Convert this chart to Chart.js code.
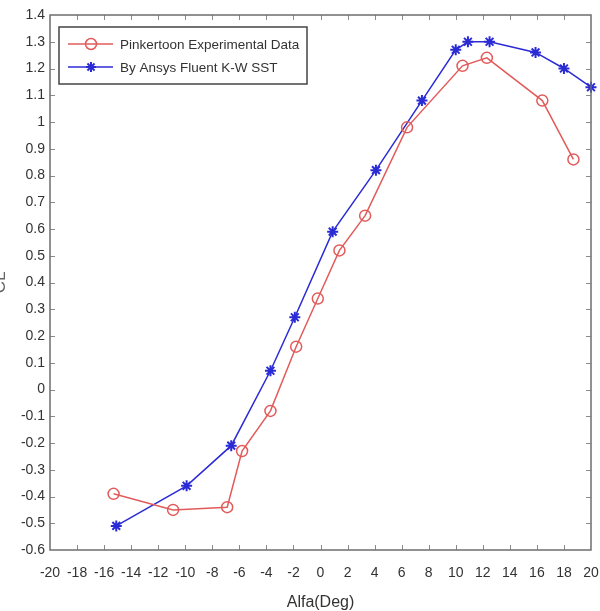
<!DOCTYPE html>
<html>
<head>
<meta charset="utf-8">
<script src="https://cdn.jsdelivr.net/npm/chart.js@4"></script>
<style>
  html, body { margin: 0; padding: 0; background: #fff; overflow: hidden; }
  #wrap { position: absolute; left: -8px; top: 0; width: 608px; height: 611px; }
</style>
</head>
<body>
<div id="wrap"><canvas id="cl-chart"></canvas></div>
<script>
// ── datos ───────────────────────────────
const expAlpha  = [-15.3, -10.9, -6.9, -5.8, -3.7, -1.8, -0.2, 1.4, 3.3, 6.4, 10.5, 12.3, 16.4, 18.7];
const expCl     = [-0.39, -0.45, -0.44, -0.23, -0.08, 0.16, 0.34, 0.52, 0.65, 0.98, 1.21, 1.24, 1.08, 0.86];
const cfdAlpha  = [-15.1, -9.9, -6.6, -3.7, -1.9, 0.9, 4.1, 7.5, 10.0, 10.9, 12.5, 15.9, 18.0, 20.0];
const cfdCl     = [-0.51, -0.36, -0.21, 0.07, 0.27, 0.59, 0.82, 1.08, 1.27, 1.30, 1.30, 1.26, 1.20, 1.13];
const xTickVals = [-20, -18, -16, -14, -12, -10, -8, -6, -4, -2, 0, 2, 4, 6, 8, 10, 12, 14, 16, 18, 20];
const yTickVals = [-0.6, -0.5, -0.4, -0.3, -0.2, -0.1, 0, 0.1, 0.2, 0.3, 0.4, 0.5, 0.6, 0.7, 0.8, 0.9, 1, 1.1, 1.2, 1.3, 1.4];
const seriesNames = ['Pinkertoon Experimental Data', 'By Ansys Fluent K-W SST'];

const FONT = "'Liberation Sans', Arial, sans-serif";
const RED  = '#e25b5b';
const BLUE = '#2b2bd6';

const pts = (xs, ys) => xs.map((x, i) => ({ x, y: ys[i] }));

// ── marco estilo MATLAB con ticks hacia dentro ──
const framePlugin = {
  id: 'frame',
  afterDatasetsDraw(chart) {
    const { ctx, chartArea: a, scales: { x, y } } = chart;
    const len = 5;
    ctx.save();
    ctx.strokeStyle = '#8a8a8a';
    ctx.lineWidth = 1;
    ctx.beginPath();
    xTickVals.slice(1, -1).forEach(v => {
      const px = Math.round(x.getPixelForValue(v)) + 0.5;
      ctx.moveTo(px, a.bottom); ctx.lineTo(px, a.bottom - len);
      ctx.moveTo(px, a.top);    ctx.lineTo(px, a.top + len);
    });
    yTickVals.slice(1, -1).forEach(v => {
      const py = Math.round(y.getPixelForValue(v)) + 0.5;
      ctx.moveTo(a.left, py);  ctx.lineTo(a.left + len, py);
      ctx.moveTo(a.right, py); ctx.lineTo(a.right - len, py);
    });
    ctx.stroke();
    ctx.strokeStyle = '#6e6e6e';
    ctx.lineWidth = 1.5;
    ctx.strokeRect(a.left, a.top, a.right - a.left, a.bottom - a.top);
    ctx.restore();
  }
};

// ── leyenda dentro del área ──
const legendPlugin = {
  id: 'boxLegend',
  afterDraw(chart) {
    const { ctx, chartArea: a } = chart;
    const bx = a.left + 9, by = a.top + 12, bw = 248, bh = 57;
    ctx.save();
    ctx.fillStyle = '#fff';
    ctx.fillRect(bx, by, bw, bh);
    ctx.strokeStyle = '#444';
    ctx.lineWidth = 1.5;
    ctx.strokeRect(bx, by, bw, bh);
    ctx.font = '13.5px ' + FONT;
    ctx.textBaseline = 'middle';
    chart.data.datasets.forEach((ds, i) => {
      const ry = by + 17 + i * 23;
      ctx.strokeStyle = ds.borderColor;
      ctx.lineWidth = 1.5;
      ctx.beginPath();
      ctx.moveTo(bx + 9, ry); ctx.lineTo(bx + 54, ry);
      ctx.stroke();
      const cx = bx + 32;
      if (ds.pointStyle === 'circle') {
        ctx.beginPath(); ctx.arc(cx, ry, 5.5, 0, Math.PI * 2); ctx.stroke();
      } else {
        ctx.lineWidth = 2;
        ctx.beginPath();
        for (let k = 0; k < 4; k++) {
          const ang = k * Math.PI / 4;
          ctx.moveTo(cx - 5 * Math.cos(ang), ry - 5 * Math.sin(ang));
          ctx.lineTo(cx + 5 * Math.cos(ang), ry + 5 * Math.sin(ang));
        }
        ctx.stroke();
      }
      ctx.fillStyle = '#333';
      ctx.fillText(ds.label, bx + 61, ry + 1);
    });
    ctx.restore();
  }
};

new Chart(document.getElementById('cl-chart').getContext('2d'), {
  type: 'line',
  data: {
    datasets: [
      {
        label: seriesNames[0],
        data: pts(expAlpha, expCl),
        borderColor: RED, borderWidth: 1.5,
        pointStyle: 'circle', pointRadius: 5.5, pointBorderWidth: 1.5,
        pointBorderColor: RED, pointBackgroundColor: 'transparent',
        fill: false, tension: 0, clip: false,
      },
      {
        label: seriesNames[1],
        data: pts(cfdAlpha, cfdCl),
        borderColor: BLUE, borderWidth: 1.5,
        pointStyle: 'star', pointRadius: 5.5, pointBorderWidth: 2,
        pointBorderColor: BLUE, pointBackgroundColor: BLUE,
        fill: false, tension: 0, clip: false,
      }
    ]
  },
  options: {
    responsive: true, maintainAspectRatio: false, animation: false,
    layout: { padding: { top: 15, right: 9, left: 0, bottom: 0 } },
    plugins: { legend: { display: false }, tooltip: { enabled: false } },
    scales: {
      x: {
        type: 'linear', min: -20, max: 20,
        afterBuildTicks: s => { s.ticks = xTickVals.map(v => ({ value: v })); },
        afterFit: s => { s.height = 61; s.paddingLeft = 0; s.paddingRight = 0; },
        grid: { display: false, drawTicks: false },
        border: { display: false },
        ticks: { color: '#333', padding: 15, maxRotation: 0, autoSkip: false,
                 font: { family: FONT, size: 14 }, callback: v => String(v) },
        title: { display: true, text: 'Alfa(Deg)', color: '#333', padding: 0,
                 font: { family: FONT, size: 16, lineHeight: 1 } }
      },
      y: {
        type: 'linear', min: -0.6, max: 1.4,
        afterBuildTicks: s => { s.ticks = yTickVals.map(v => ({ value: v })); },
        afterFit: s => { s.width = 58; s.paddingTop = 0; s.paddingBottom = 0; },
        grid: { display: false, drawTicks: false },
        border: { display: false },
        ticks: { color: '#333', padding: 5, autoSkip: false,
                 font: { family: FONT, size: 14 }, callback: v => String(Number(v.toFixed(1))) },
        title: { display: true, text: 'CL', color: '#666', padding: 0,
                 font: { family: FONT, size: 17, lineHeight: 1 } }
      }
    }
  },
  plugins: [framePlugin, legendPlugin]
});
</script>
</body>
</html>
